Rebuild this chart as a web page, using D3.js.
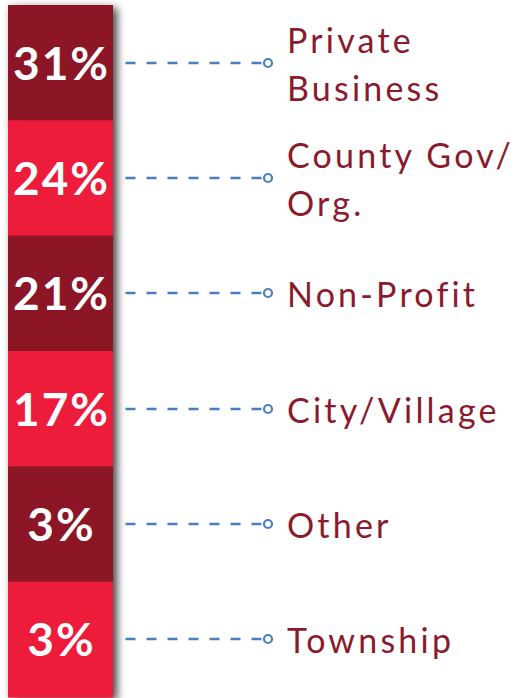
<!DOCTYPE html>
<html>
<head>
<meta charset="utf-8">
<script src="https://cdn.jsdelivr.net/npm/d3@7"></script>
<style>
  html, body { margin: 0; padding: 0; background: #fff; }
  svg { display: block; }
</style>
</head>
<body>
<script>
// share of respondents by sector
var values = [31, 24, 21, 17, 3, 3];
var labels = [["Private", "Business"], ["County Gov/", "Org."], ["Non-Profit"], ["City/Village"], ["Other"], ["Township"]];
var blockColors = ["#8C1628", "#EE1C3A"];

var width = 527, height = 698;

var svg = d3.select("body").append("svg")
  .attr("width", width)
  .attr("height", height);

var defs = svg.append("defs");
var f = defs.append("filter").attr("id", "shadow")
  .attr("x", "-20%").attr("y", "-5%").attr("width", "160%").attr("height", "110%");
f.append("feDropShadow")
  .attr("dx", 4).attr("dy", 3)
  .attr("stdDeviation", 4)
  .attr("flood-color", "#000")
  .attr("flood-opacity", 0.75);

var y = d3.scaleBand()
  .domain(d3.range(values.length))
  .range([5, 697])
  .padding(0);

var barX = 8, barW = 105;

// the column of blocks with its shadow
var column = svg.append("g").attr("filter", "url(#shadow)");
column.selectAll("rect")
  .data(values)
  .enter()
  .append("rect")
    .attr("x", barX)
    .attr("y", function(d, i) { return y(i); })
    .attr("width", barW)
    .attr("height", y.bandwidth() + 0.5)
    .style("fill", function(d, i) { return blockColors[i % 2]; });

// percentages
svg.selectAll("text.pct")
  .data(values)
  .enter()
  .append("text")
    .attr("class", "pct")
    .attr("x", barX + barW / 2 + 1)
    .attr("y", function(d, i) { return y(i) + y.bandwidth() / 2 + 17; })
    .attr("text-anchor", "middle")
    .style("font-family", "Lato, 'Open Sans', sans-serif")
    .style("font-weight", "bold")
    .style("font-size", "46px")
    .style("letter-spacing", "2px")
    .style("fill", "#fff")
    .text(function(d) { return d + "%"; });

// dashed leaders
var leaders = svg.selectAll("g.leader")
  .data(values)
  .enter()
  .append("g")
    .attr("class", "leader")
    .attr("transform", function(d, i) { return "translate(0," + Math.round(y(i) + y.bandwidth() / 2) + ")"; });

leaders.append("line")
  .attr("x1", 125.5).attr("x2", 264.5)
  .attr("y1", 0).attr("y2", 0)
  .style("stroke", "#4A7EC0")
  .style("stroke-width", 2.4)
  .style("stroke-dasharray", "10,11");

leaders.append("circle")
  .attr("cx", 268)
  .attr("cy", 0)
  .attr("r", 4)
  .style("fill", "#fff")
  .style("stroke", "#4A7EC0")
  .style("stroke-width", 2.2);

// sector names
var names = svg.selectAll("text.name")
  .data(labels)
  .enter()
  .append("text")
    .attr("class", "name")
    .attr("x", 287)
    .attr("y", function(d, i) {
      var c = y(i) + y.bandwidth() / 2 + 2;
      return c + 12 - (d.length - 1) * 24;
    })
    .style("font-family", "Lato, 'Open Sans', sans-serif")
    .style("font-size", "34px")
    .style("letter-spacing", "3.2px")
    .style("fill", "#8A1A2C");

names.selectAll("tspan")
  .data(function(d) { return d; })
  .enter()
  .append("tspan")
    .attr("x", 287)
    .attr("dy", function(d, i) { return i === 0 ? 0 : 48; })
    .text(function(d) { return d; });
</script>
</body>
</html>
